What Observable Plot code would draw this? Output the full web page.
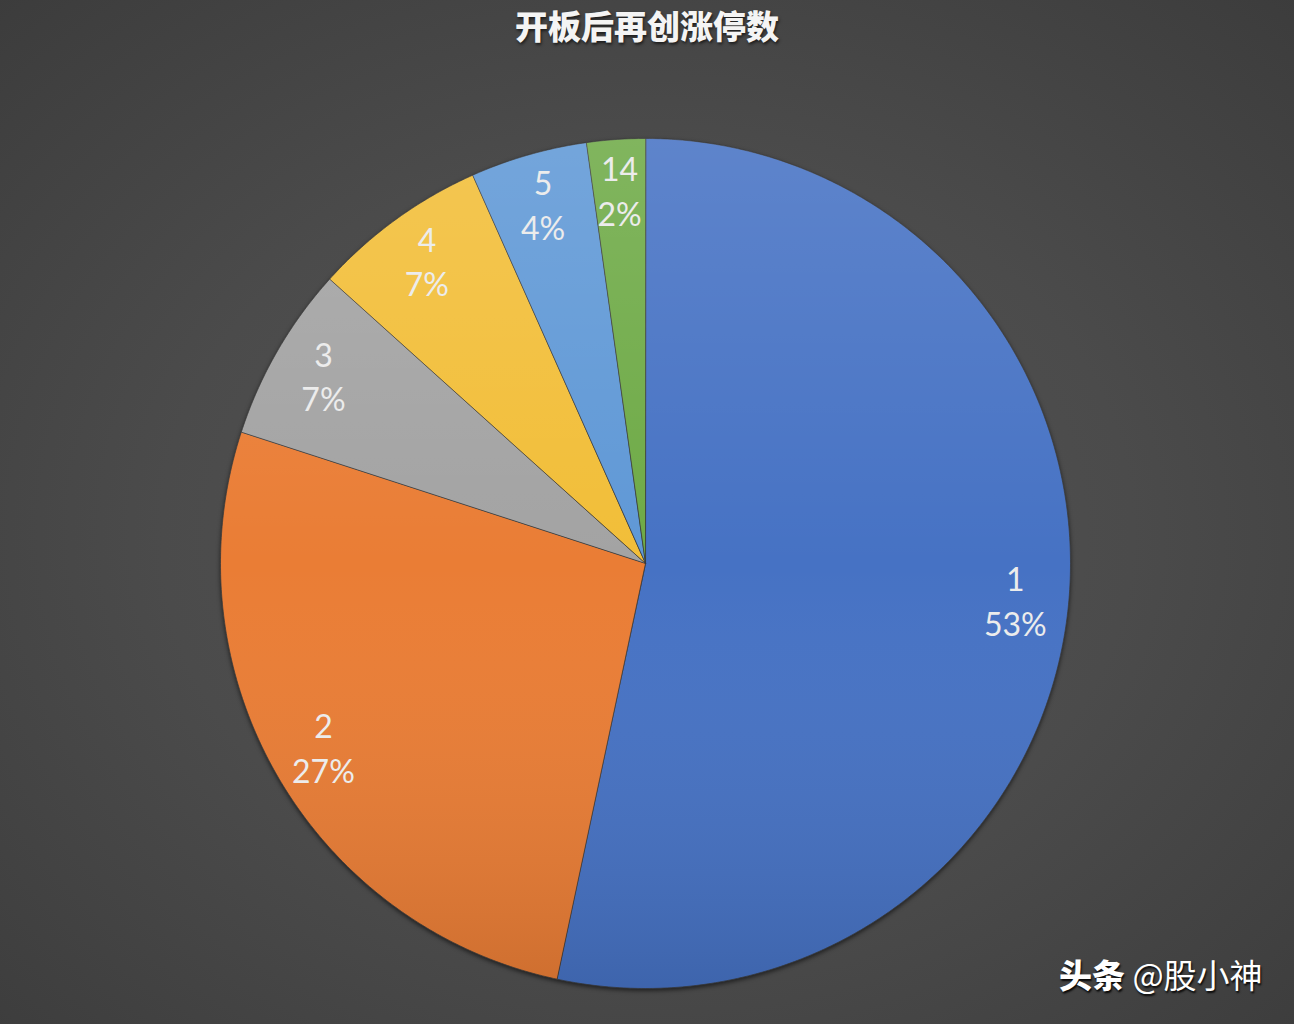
<!DOCTYPE html>
<html>
<head>
<meta charset="utf-8">
<script src="https://cdn.jsdelivr.net/npm/d3@7"></script>
<script src="https://cdn.jsdelivr.net/npm/@observablehq/plot@0.6"></script>
<style>
html, body { margin: 0; padding: 0; }
body {
  width: 1294px; height: 1024px; overflow: hidden;
  background: radial-gradient(ellipse 75% 75% at 50% 52%, #555555 0%, #4b4b4b 50%, #3b3b3b 100%);
}
#wrap { position: relative; width: 1294px; height: 1024px; }
#chart { position: absolute; left: 0; top: 0; }
#title {
  position: absolute; left: 0; top: 5px; width: 1294px; text-align: center;
  font-family: "Noto Sans CJK SC", sans-serif; font-weight: 900; font-size: 33px; line-height: 40px;
  color: #f4f4f4; text-shadow: 1px 2px 3px rgba(0,0,0,0.6);
}
#mark {
  position: absolute; left: 1059px; top: 952px; white-space: nowrap;
  font-family: "Noto Sans CJK SC", sans-serif; font-size: 33px; line-height: 44px;
  color: #ffffff; text-shadow: 1px 2px 2px rgba(0,0,0,0.9);
}
#mark b { font-weight: 900; }
</style>
</head>
<body>
<div id="wrap">
  <div id="chart"></div>
  <div id="title"></div>
  <div id="mark"><b>头条</b> @股小神</div>
</div>
<script>
const title = "开板后再创涨停数";
const categories = ["1", "2", "3", "4", "5", "14"];
const counts = [24, 12, 3, 3, 2, 1];
const colors = ["#4672C4", "#EA7D35", "#A3A3A3", "#F2BE38", "#5F98D6", "#6EAA46"];

document.getElementById("title").textContent = title;

const R = 425;
const total = d3.sum(counts);
const arcs = d3.pie().sort(null).value(d => d)(counts);

const slicePts = [];
arcs.forEach((a, i) => {
  const cat = categories[i];
  slicePts.push({cat, x: 0, y: 0});
  const n = Math.max(2, Math.ceil((a.endAngle - a.startAngle) / (Math.PI / 360)));
  for (let k = 0; k <= n; k++) {
    const t = a.startAngle + (a.endAngle - a.startAngle) * k / n;
    slicePts.push({cat, x: R * Math.sin(t), y: R * Math.cos(t)});
  }
});

const circle = d3.range(0, 721).map(k => {
  const t = k / 720 * 2 * Math.PI;
  return {x: R * Math.sin(t), y: R * Math.cos(t)};
});

const labels = arcs.map((a, i) => {
  const m = (a.startAngle + a.endAngle) / 2;
  return {
    x: 0.875 * R * Math.sin(m),
    y: 0.875 * R * Math.cos(m) + 3,
    text: `${categories[i]}\n${Math.round(counts[i] / total * 100)}%`
  };
});

const svg = Plot.plot({
  width: 1294,
  height: 1024,
  margin: 0,
  x: {domain: [-645, 649], range: [0, 1294], axis: null},
  y: {domain: [-461, 563], range: [1024, 0], axis: null},
  color: {domain: categories, range: colors},
  style: {background: "transparent", overflow: "visible"},
  marks: [
    Plot.line(slicePts, {x: "x", y: "y", z: "cat", fill: "cat", stroke: "#3a3a3a", strokeWidth: 1, strokeOpacity: 0.75, curve: "linear-closed"}),
    Plot.line(circle, {x: "x", y: "y", fill: "url(#pieshade)", stroke: "none", curve: "linear-closed"}),
    Plot.text(labels, {x: "x", y: "y", text: "text", fontSize: 32, lineHeight: 1.4, fill: "#ececec", fontFamily: "Lato, 'Open Sans', sans-serif"})
  ]
});

const sel = d3.select(svg);
const defs = sel.insert("defs", ":first-child");
const grad = defs.append("linearGradient").attr("id", "pieshade")
  .attr("x1", 0).attr("y1", 0).attr("x2", 0).attr("y2", 1);
grad.append("stop").attr("offset", "0%").attr("stop-color", "#ffffff").attr("stop-opacity", 0.13);
grad.append("stop").attr("offset", "50%").attr("stop-color", "#ffffff").attr("stop-opacity", 0);
grad.append("stop").attr("offset", "100%").attr("stop-color", "#000000").attr("stop-opacity", 0.12);
sel.select('g[aria-label="line"]').style("filter", "drop-shadow(0px 2px 2px rgba(0,0,0,0.55))");

document.getElementById("chart").appendChild(svg);
</script>
</body>
</html>
